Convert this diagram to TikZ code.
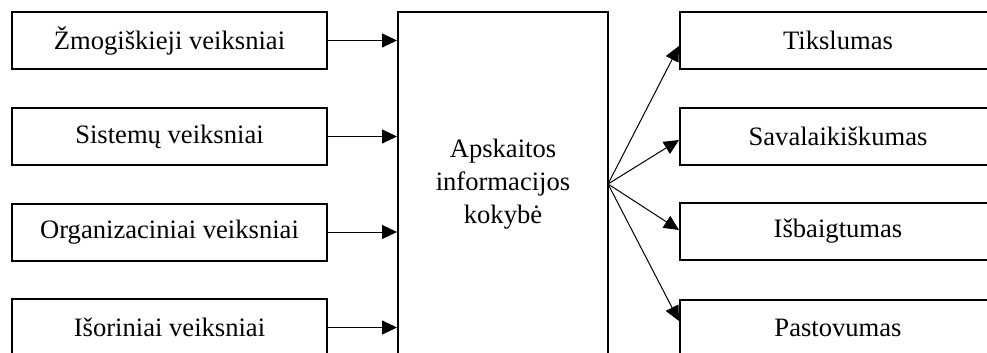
\documentclass[tikz,border=0pt]{standalone}
\usepackage{fontspec}
\setmainfont{Liberation Serif}
\usetikzlibrary{arrows.meta}
\tikzset{
  factor/.style={draw, line width=2pt, minimum width=315pt, minimum height=57pt,
    inner sep=0pt, align=center, font=\fontsize{26.6}{32}\selectfont},
  trait/.style={factor, minimum width=316pt},
  link/.style={line width=1pt, -{Triangle[length=15pt,width=14pt]}}
}
\begin{document}
\begin{tikzpicture}[x=1pt, y=-1pt]
  \clip (0,0) rectangle (987,353);
  % central quality block
  \node[draw, line width=2pt, minimum width=210pt, minimum height=344pt,
        inner sep=0pt, align=center, font=\fontsize{26.6}{33}\selectfont]
        (core) at (503,184) {Apskaitos\\informacijos\\kokybė};
  % influencing factors
  \node[factor] (f1) at (169.5,40.5) {Žmogiškieji veiksniai};
  \node[factor] (f2) at (169.5,136.5) {Sistemų veiksniai};
  \node[factor] (f3) at (169.5,232) {Organizaciniai veiksniai};
  \node[factor] (f4) at (169.5,327.5) {Išoriniai veiksniai};
  % quality characteristics
  \node[trait] (t1) at (838,40.5) {Tikslumas};
  \node[trait] (t2) at (838,136) {Savalaikiškumas};
  \node[trait] (t3) at (838,231) {Išbaigtumas};
  \node[trait] (t4) at (838,328) {Pastovumas};
  % inputs
  \foreach \f in {f1,f2,f3,f4}
    \draw[link] (\f.east) -- (core.west |- \f.east);
  % outputs fanning out from one point
  \coordinate (fan) at (608,184);
  \draw[link] (fan) -- ([yshift=-5.5pt]t1.west);
  \draw[link] (fan) -- ([yshift=-4pt]t2.west);
  \draw[link] (fan) -- ([yshift=1pt]t3.west);
  \draw[link] (fan) -- ([yshift=7pt]t4.west);
\end{tikzpicture}
\end{document}
